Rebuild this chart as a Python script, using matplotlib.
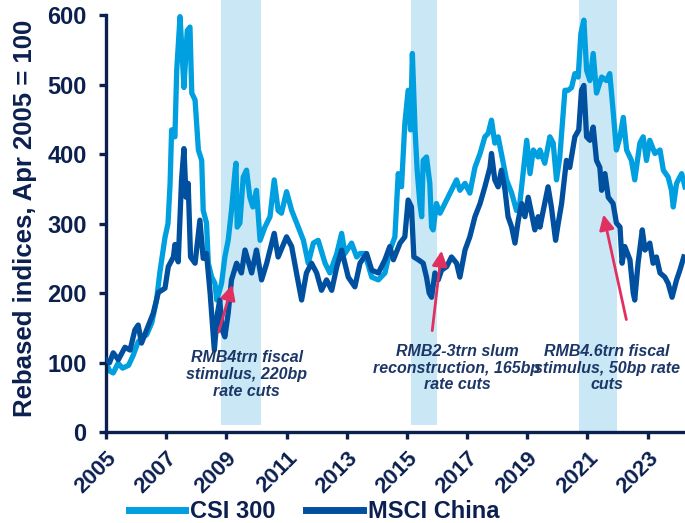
import matplotlib
matplotlib.use("Agg")
import matplotlib.pyplot as plt

# region Data (decimal years, rebased Apr 2005 = 100)
csi_t = [2005.00, 2005.12, 2005.24, 2005.40, 2005.55, 2005.75, 2005.90, 2006.07, 2006.23, 2006.35,
         2006.52, 2006.68, 2006.79, 2006.96, 2007.06, 2007.13, 2007.18, 2007.29, 2007.35, 2007.46,
         2007.51, 2007.59, 2007.70, 2007.79, 2007.85, 2007.96, 2008.07, 2008.18, 2008.23, 2008.34,
         2008.40, 2008.51, 2008.62, 2008.68, 2008.75, 2008.84, 2008.95, 2009.06, 2009.17, 2009.29,
         2009.32, 2009.36, 2009.45, 2009.56, 2009.67, 2009.78, 2009.88, 2010.00, 2010.12, 2010.28,
         2010.45, 2010.59, 2010.72, 2010.83, 2011.00, 2011.17, 2011.39, 2011.56, 2011.72, 2011.89,
         2012.05, 2012.28, 2012.44, 2012.67, 2012.83, 2012.94, 2013.16, 2013.33, 2013.44, 2013.60,
         2013.83, 2014.05, 2014.27, 2014.44, 2014.60, 2014.71, 2014.82, 2014.93, 2015.04, 2015.12,
         2015.18, 2015.27, 2015.34, 2015.43, 2015.49, 2015.54, 2015.65, 2015.76, 2015.82, 2015.87,
         2015.98, 2016.10, 2016.26, 2016.43, 2016.65, 2016.76, 2016.93, 2017.09, 2017.26, 2017.43,
         2017.59, 2017.70, 2017.81, 2017.92, 2018.03, 2018.20, 2018.31, 2018.48, 2018.64, 2018.75,
         2018.86, 2018.98, 2019.09, 2019.20, 2019.36, 2019.42, 2019.58, 2019.75, 2019.86, 2019.97,
         2020.08, 2020.25, 2020.36, 2020.47, 2020.58, 2020.69, 2020.78, 2020.88, 2020.97, 2021.08,
         2021.19, 2021.30, 2021.47, 2021.63, 2021.74, 2021.85, 2021.96, 2022.08, 2022.19, 2022.30,
         2022.46, 2022.57, 2022.74, 2022.85, 2022.96, 2023.07, 2023.24, 2023.41, 2023.52, 2023.68,
         2023.79, 2023.85, 2023.96, 2024.13, 2024.24]
csi_v = [100, 88, 85, 99, 92, 96, 110, 130, 137, 140,
         157, 190, 230, 280, 300, 358, 435, 425, 521, 598,
         560, 496, 578, 583, 488, 478, 406, 391, 319, 301,
         243, 223, 214, 190, 200, 214, 252, 276, 319, 377,
         387, 295, 301, 367, 377, 338, 324, 348, 276, 295,
         310, 363, 319, 315, 346, 319, 295, 276, 243, 272,
         276, 243, 229, 257, 286, 257, 272, 252, 257, 257,
         223, 219, 229, 262, 281, 372, 353, 444, 492, 435,
         545, 435, 377, 329, 310, 391, 396, 358, 295, 291,
         329, 315, 329, 344, 363, 348, 358, 344, 381, 401,
         425, 430, 449, 416, 425, 387, 363, 344, 319, 329,
         372, 420, 372, 406, 396, 406, 387, 425, 416, 363,
         396, 492, 492, 496, 516, 511, 574, 593, 521, 506,
         545, 488, 511, 506, 516, 463, 406, 425, 453, 406,
         391, 363, 416, 425, 391, 420, 401, 406, 377, 367,
         348, 324, 358, 372, 353]

msci_t = [2005.00, 2005.12, 2005.24, 2005.41, 2005.63, 2005.80, 2005.96, 2006.07, 2006.18, 2006.35,
          2006.57, 2006.74, 2006.96, 2007.07, 2007.24, 2007.29, 2007.40, 2007.51, 2007.59, 2007.66,
          2007.73, 2007.81, 2007.96, 2008.12, 2008.23, 2008.34, 2008.46, 2008.52, 2008.60, 2008.70,
          2008.78, 2008.86, 2008.95, 2009.06, 2009.17, 2009.34, 2009.50, 2009.62, 2009.84, 2010.00,
          2010.17, 2010.34, 2010.59, 2010.72, 2011.00, 2011.17, 2011.33, 2011.50, 2011.66, 2011.83,
          2012.00, 2012.16, 2012.33, 2012.50, 2012.67, 2012.83, 2013.05, 2013.27, 2013.44, 2013.66,
          2013.83, 2014.05, 2014.27, 2014.43, 2014.55, 2014.77, 2014.93, 2015.04, 2015.15, 2015.23,
          2015.38, 2015.54, 2015.65, 2015.74, 2015.82, 2015.93, 2016.04, 2016.15, 2016.32, 2016.48,
          2016.65, 2016.76, 2016.93, 2017.09, 2017.26, 2017.43, 2017.59, 2017.76, 2017.81, 2017.92,
          2018.03, 2018.14, 2018.26, 2018.36, 2018.48, 2018.59, 2018.70, 2018.81, 2018.92, 2019.03,
          2019.14, 2019.25, 2019.36, 2019.42, 2019.53, 2019.69, 2019.80, 2019.94, 2020.03, 2020.14,
          2020.30, 2020.41, 2020.58, 2020.71, 2020.80, 2020.88, 2020.97, 2021.08, 2021.19, 2021.30,
          2021.41, 2021.47, 2021.58, 2021.69, 2021.85, 2021.96, 2022.08, 2022.15, 2022.24, 2022.41,
          2022.52, 2022.57, 2022.68, 2022.82, 2022.91, 2023.07, 2023.18, 2023.29, 2023.41, 2023.57,
          2023.68, 2023.81, 2023.96, 2024.07, 2024.20]
msci_v = [104, 100, 114, 104, 122, 118, 147, 154, 128, 147,
          171, 201, 207, 238, 252, 270, 245, 363, 408, 338,
          358, 252, 243, 305, 250, 257, 200, 165, 118, 170,
          190, 147, 137, 171, 219, 243, 229, 262, 229, 262,
          219, 243, 286, 252, 281, 267, 229, 190, 229, 243,
          229, 204, 219, 204, 238, 262, 223, 209, 243, 257,
          233, 229, 248, 267, 248, 272, 281, 334, 324, 252,
          248, 243, 223, 200, 194, 229, 219, 233, 238, 252,
          243, 223, 262, 281, 310, 329, 353, 381, 401, 363,
          353, 377, 348, 310, 295, 272, 305, 329, 310, 338,
          315, 291, 310, 295, 319, 353, 324, 276, 301, 329,
          391, 381, 425, 435, 492, 499, 425, 420, 439, 391,
          381, 348, 372, 338, 329, 301, 295, 243, 267, 248,
          200, 190, 243, 291, 262, 272, 243, 252, 229, 223,
          214, 194, 219, 233, 252]

# stimulus periods (start, end, bottom of shading)
band_start = [2008.82, 2015.13, 2020.71]
band_end = [2010.15, 2016.00, 2021.98]
band_bottom = [10, 10, 0]

notes = ["RMB4trn fiscal\nstimulus, 220bp\nrate cuts",
         "RMB2-3trn slum\nreconstruction, 165bp\nrate cuts",
         "RMB4.6trn fiscal\nstimulus, 50bp rate\ncuts"]
note_xy = [(2009.68, 83), (2016.66, 92), (2021.64, 92)]
arrow_tail = [(2008.72, 140), (2015.83, 142), (2022.31, 158)]
arrow_head = [(2009.22, 216), (2016.16, 265), (2021.51, 317)]

year_ticks = list(range(2005, 2024, 2))
# endregion

NAVY = "#0c2050"
plt.rcParams["font.family"] = ["Liberation Sans", "DejaVu Sans"]
plt.rcParams["font.weight"] = "bold"

fig = plt.figure(figsize=(6.85, 5.23), dpi=100)
ax = fig.add_axes([106 / 685, 91 / 523, 579 / 685, 432 / 523])

for s, e, b in zip(band_start, band_end, band_bottom):
    ax.bar(s, 622 - b, width=e - s, bottom=b, align="edge", color="#c9e7f5", zorder=0)

ax.plot(csi_t, csi_v, color="#009fe0", lw=3.8, solid_joinstyle="round", label="CSI 300", zorder=2)
ax.plot(msci_t, msci_v, color="#0050a0", lw=3.8, solid_joinstyle="round", label="MSCI China", zorder=3)

for txt, xy in zip(notes, note_xy):
    ax.text(xy[0], xy[1], txt, ha="center", va="center", fontsize=11.5, style="italic",
            fontweight="bold", color="#1c3767", linespacing=1.15, zorder=5)
for t, h in zip(arrow_tail, arrow_head):
    ax.annotate("", xy=h, xytext=t,
                arrowprops=dict(arrowstyle="-|>,head_length=0.9,head_width=0.45",
                                color="#e0305f", lw=2), zorder=6)

ax.set_xlim(2005, 2024.24)
ax.set_ylim(0, 622)
ax.set_yticks(range(0, 601, 100))
ax.set_xticks(year_ticks)
ax.set_xticklabels([str(y) for y in year_ticks], rotation=45, ha="right",
                   va="top", rotation_mode="anchor")
for sp in ["top", "right"]:
    ax.spines[sp].set_visible(False)
for sp in ["left", "bottom"]:
    ax.spines[sp].set_color(NAVY)
    ax.spines[sp].set_linewidth(2.4)
ax.spines["left"].set_bounds(0, 600)
ax.tick_params(axis="y", colors=NAVY, labelsize=17, length=5, width=2.4, pad=9)
ax.tick_params(axis="x", colors=NAVY, labelsize=16, length=5, width=2.4, pad=6)
for lab in ax.get_xticklabels() + ax.get_yticklabels():
    lab.set_fontweight("bold")

fig.text(25 / 685, 1 - 218 / 523, "Rebased indices, Apr 2005 = 100", rotation=90,
         ha="center", va="center", fontsize=18.5, fontweight="bold", color=NAVY)

leg = fig.legend(loc="center", bbox_to_anchor=(314 / 685, 11 / 523), ncol=2, frameon=False,
                 prop={"size": 17, "weight": "bold"}, handlelength=2.4, handletextpad=0.2,
                 columnspacing=1.3, borderpad=0, borderaxespad=0)
for t in leg.get_texts():
    t.set_color(NAVY)
for ln in leg.get_lines():
    ln.set_linewidth(5)

fig.savefig("out.png", dpi=100)
